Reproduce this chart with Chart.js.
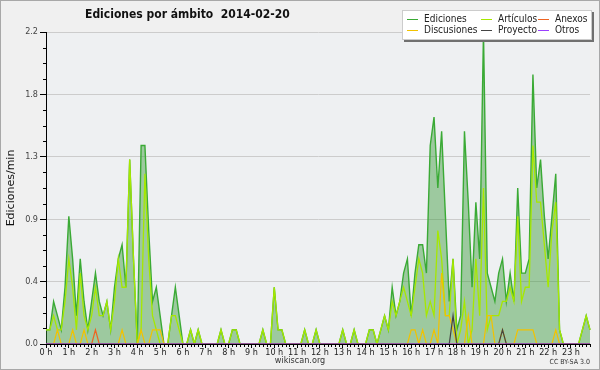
<!DOCTYPE html>
<html>
<head>
<meta charset="utf-8">
<script src="https://cdn.jsdelivr.net/npm/chart.js@4/dist/chart.umd.min.js"></script>
<style>
  html, body { margin: 0; padding: 0; background: #f0f0f0; }
  canvas { display: block; }
</style>
</head>
<body>
<canvas id="chart" width="600" height="370"></canvas>
<script>
// 10-minute slots, 0 h .. 23 h 50
const slots = Array.from({ length: 144 }, (_, i) => i);
const hours = [0,1,2,3,4,5,6,7,8,9,10,11,12,13,14,15,16,17,18,19,20,21,22,23];
const yTicks = [0, 0.44, 0.88, 1.32, 1.76, 2.2];

const seriesNames = ['Ediciones', 'Artículos', 'Discusiones', 'Anexos', 'Proyecto', 'Otros'];

// edits per minute, one value per 10-minute slot (two hours per row)
const ediciones = [
  0.1,0.1,0.3,0.2,0.1,0.4, 0.9,0.6,0.2,0.6,0.3,0.1,
  0.3,0.5,0.3,0.2,0.3,0.1, 0.4,0.6,0.7,0.4,1.3,0.6,
  0,1.4,1.4,0.8,0.3,0.4, 0.2,0,0,0.2,0.4,0.2,
  0,0,0.1,0,0.1,0, 0,0,0,0,0.1,0,
  0,0.1,0.1,0,0,0, 0,0,0,0.1,0,0,
  0.4,0.1,0.1,0,0,0, 0,0,0.1,0,0,0.1,
  0,0,0,0,0,0, 0.1,0,0,0.1,0,0,
  0,0.1,0.1,0,0.1,0.2, 0.1,0.4,0.2,0.3,0.5,0.6,
  0.2,0.5,0.7,0.7,0.5,1.4, 1.6,1.1,1.5,0.9,0.3,0.6,
  0.1,0.2,1.5,1.0,0.4,1.0, 0.6,2.2,0.5,0.4,0.3,0.5,
  0.6,0.3,0.5,0.3,1.1,0.5, 0.5,0.6,1.9,1.1,1.3,0.9,
  0.6,0.9,1.2,0.1,0,0, 0,0,0,0.1,0.2,0.1
];
const articulos = [
  0.1,0.1,0.2,0.1,0.1,0.3, 0.6,0.4,0.1,0.5,0.2,0.1,
  0.2,0.4,0.2,0.2,0.3,0.1, 0.3,0.6,0.4,0.4,1.3,0.6,
  0,0.1,1.2,0.6,0.2,0.1, 0,0,0,0.2,0.2,0.1,
  0,0,0.1,0,0.1,0, 0,0,0,0,0.1,0,
  0,0.1,0.1,0,0,0, 0,0,0,0.1,0,0,
  0.4,0.1,0.1,0,0,0, 0,0,0.1,0,0,0.1,
  0,0,0,0,0,0, 0.1,0,0,0.1,0,0,
  0,0.1,0.1,0,0.1,0.2, 0.1,0.3,0.2,0.3,0.4,0.3,
  0.2,0.4,0.6,0.5,0.2,0.3, 0.2,0.8,0.6,0.2,0.2,0.6,
  0,0.1,0.3,0,0.1,0.6, 0.2,1.1,0.1,0.2,0.2,0.2,
  0.3,0.3,0.4,0.3,0.9,0.3, 0.4,0.4,1.4,1.0,1.0,0.7,
  0.4,0.8,1.0,0.1,0,0, 0,0,0,0.1,0.2,0.1
];
const discusiones = [
  0,0,0,0.1,0,0, 0,0.1,0,0,0.1,0,
  0,0,0,0,0,0, 0,0,0.1,0,0,0,
  0,0.1,0,0,0.1,0.1, 0.1,0,0,0,0,0,
  0,0,0,0,0,0, 0,0,0,0,0,0,
  0,0,0,0,0,0, 0,0,0,0,0,0,
  0,0,0,0,0,0, 0,0,0,0,0,0,
  0,0,0,0,0,0, 0,0,0,0,0,0,
  0,0,0,0,0,0, 0,0,0,0,0,0,
  0.1,0.1,0,0.1,0,0, 0.1,0,0.5,0.2,0.2,0.1,
  0,0,0,0.2,0,0, 0,0,0.2,0.2,0,0,
  0.1,0,0,0,0.1,0.1, 0.1,0.1,0.1,0,0,0,
  0,0,0.1,0,0,0, 0,0,0,0,0,0
];
const anexos = [
  0,0,0,0,0,0, 0,0,0,0,0,0,
  0,0.1,0,0,0,0, 0,0,0,0,0,0,
  0,0,0,0,0,0, 0,0,0,0,0,0,
  0,0,0,0,0,0, 0,0,0,0,0,0,
  0,0,0,0,0,0, 0,0,0,0,0,0,
  0,0,0,0,0,0, 0,0,0,0,0,0,
  0,0,0,0,0,0, 0,0,0,0,0,0,
  0,0,0,0,0,0, 0,0,0,0,0,0,
  0,0,0,0,0,0, 0,0,0,0,0,0,
  0,0,0,0,0,0, 0,0,0,0,0,0,
  0,0,0,0,0,0, 0,0,0,0,0,0,
  0,0,0,0,0,0, 0,0,0,0,0,0
];
const proyecto = [
  0,0,0,0,0,0, 0,0,0,0,0,0,
  0,0,0,0,0,0, 0,0,0,0,0,0,
  0,0,0,0,0,0, 0,0,0,0,0,0,
  0,0,0,0,0,0, 0,0,0,0,0,0,
  0,0,0,0,0,0, 0,0,0,0,0,0,
  0,0,0,0,0,0, 0,0,0,0,0,0,
  0,0,0,0,0,0, 0,0,0,0,0,0,
  0,0,0,0,0,0, 0,0,0,0,0,0,
  0,0,0,0,0,0, 0,0,0,0,0,0.2,
  0,0,0,0,0,0, 0,0,0,0,0,0,
  0.1,0,0,0,0,0, 0,0,0,0,0,0,
  0,0,0,0,0,0, 0,0,0,0,0,0
];
const otros = [
  0,0,0,0,0,0, 0,0,0,0,0,0,
  0,0,0,0,0,0, 0,0,0,0,0,0,
  0,0,0,0,0,0, 0,0,0,0,0,0,
  0,0,0,0,0,0, 0,0,0,0,0,0,
  0,0,0,0,0,0, 0,0,0,0,0,0,
  0,0,0,0,0,0, 0,0,0,0,0,0,
  0,0,0,0,0,0, 0,0,0,0,0,0,
  0,0,0,0,0,0, 0,0,0,0,0,0,
  0,0,0,0,0,0, 0,0,0,0,0,0,
  0,0,0,0,0,0, 0,0,0,0,0,0,
  0,0,0,0,0,0, 0,0,0,0,0,0,
  0,0,0,0,0,0, 0,0,0,0,0,0
];

const colors = ['#3aaa35', '#a6e800', '#f2c200', '#ee6422', '#444444', '#9a40ff'];
const FONT = "'DejaVu Sans Condensed', 'DejaVu Sans', sans-serif";

const pts = arr => arr.map((v, i) => ({ x: slots[i], y: v }));
const clip = { left: 2, top: 2, right: 2, bottom: 0 };

function line(idx, data, order, width) {
  return {
    label: seriesNames[idx],
    data: pts(data),
    borderColor: colors[idx],
    borderWidth: width,
    pointRadius: 0,
    tension: 0,
    fill: false,
    order: order,
    clip: clip
  };
}

const ediDs = line(0, ediciones, 6, 1.4);
ediDs.fill = 'origin';
ediDs.backgroundColor = 'rgba(58,154,58,0.45)';

const decor = {
  id: 'decor',
  beforeDraw(chart) {
    const ctx = chart.ctx, a = chart.chartArea;
    ctx.save();
    ctx.fillStyle = '#f0f0f0';
    ctx.fillRect(0, 0, chart.width, chart.height);
    ctx.fillStyle = '#eef0f2';
    ctx.fillRect(a.left, a.top, a.right - a.left, a.bottom - a.top);
    ctx.restore();
  },
  afterDraw(chart) {
    const ctx = chart.ctx;
    const xs = chart.scales.x, ys = chart.scales.y;
    ctx.save();
    // minor ticks
    ctx.strokeStyle = '#000';
    ctx.lineWidth = 1;
    ctx.beginPath();
    slots.forEach(s => {
      if (s % 6 === 0) return;
      const px = Math.round(xs.getPixelForValue(s)) + 0.5;
      ctx.moveTo(px, ys.bottom);
      ctx.lineTo(px, ys.bottom + 3);
    });
    for (let k = 1; k < 20; k++) {
      if (k % 4 === 0) continue;
      const py = Math.round(ys.getPixelForValue(k * 0.11)) + 0.5;
      ctx.moveTo(xs.left - 3, py);
      ctx.lineTo(xs.left, py);
    }
    ctx.stroke();

    // title
    ctx.fillStyle = '#111';
    ctx.font = "bold 12px " + FONT;
    ctx.textBaseline = 'middle';
    ctx.textAlign = 'left';
    ctx.fillText('Ediciones por ámbito  2014-02-20', 85, 15);

    // footer
    ctx.font = "9px " + FONT;
    ctx.fillStyle = '#333';
    ctx.textAlign = 'center';
    ctx.fillText('wikiscan.org', 300, 361);
    ctx.font = "7px " + FONT;
    ctx.textAlign = 'right';
    ctx.fillText('CC BY-SA 3.0', 590, 362);

    // legend
    ctx.fillStyle = '#707070';
    ctx.fillRect(404, 12, 190, 30);
    ctx.fillStyle = '#ffffff';
    ctx.fillRect(402, 10, 190, 30);
    ctx.strokeStyle = '#cccccc';
    ctx.strokeRect(402.5, 10.5, 189, 29);
    const cols = [407, 481, 538];
    const rows = [19, 30];
    const grid = [0, 2, 1, 4, 3, 5]; // column-major order of the entries
    ctx.font = "10px " + FONT;
    ctx.textAlign = 'left';
    grid.forEach((idx, k) => {
      const cx = cols[Math.floor(k / 2)], cy = rows[k % 2];
      ctx.strokeStyle = colors[idx];
      ctx.lineWidth = 1;
      ctx.beginPath();
      ctx.moveTo(cx, cy + 0.5);
      ctx.lineTo(cx + 11, cy + 0.5);
      ctx.stroke();
      ctx.fillStyle = '#222';
      ctx.fillText(seriesNames[idx], cx + 17, cy);
    });

    // outer frame
    ctx.strokeStyle = '#a8a8a8';
    ctx.strokeRect(0.5, 0.5, chart.width - 1, chart.height - 1);
    ctx.restore();
  }
};

new Chart(document.getElementById('chart'), {
  type: 'line',
  data: {
    datasets: [
      ediDs,
      line(1, articulos, 5, 1.3),
      line(2, discusiones, 4, 1.2),
      line(3, anexos, 3, 1.2),
      line(4, proyecto, 2, 1.2),
      line(5, otros, 1, 1.2)
    ]
  },
  options: {
    responsive: false,
    animation: false,
    events: [],
    layout: { padding: { left: 0, top: 32, right: 10, bottom: 0 } },
    plugins: { legend: { display: false }, tooltip: { enabled: false } },
    scales: {
      x: {
        type: 'linear',
        min: 0,
        max: 143,
        z: 1,
        afterBuildTicks: s => { s.ticks = hours.map(h => ({ value: h * 6 })); },
        afterFit: s => { s.height = 26; },
        grid: { drawOnChartArea: false, tickLength: 4, tickColor: '#000' },
        border: { color: '#000', width: 1 },
        ticks: {
          padding: -1,
          maxRotation: 0,
          autoSkip: false,
          color: '#222',
          font: { family: FONT, size: 9 },
          callback: v => (v / 6) + ' h'
        }
      },
      y: {
        min: 0,
        max: 2.2,
        afterBuildTicks: s => { s.ticks = yTicks.map(v => ({ value: v })); },
        afterFit: s => { s.width = 46; },
        grid: { color: '#cccccc', tickLength: 6, tickColor: '#000' },
        border: { color: '#000', width: 1 },
        title: {
          display: true,
          text: 'Ediciones/min',
          color: '#111',
          font: { family: "'DejaVu Sans', sans-serif", size: 11 },
          padding: { top: 5, bottom: 0 }
        },
        ticks: {
          padding: 2,
          color: '#444',
          font: { family: FONT, size: 9 },
          callback: v => v.toFixed(1)
        }
      }
    }
  },
  plugins: [decor]
});
</script>
</body>
</html>
